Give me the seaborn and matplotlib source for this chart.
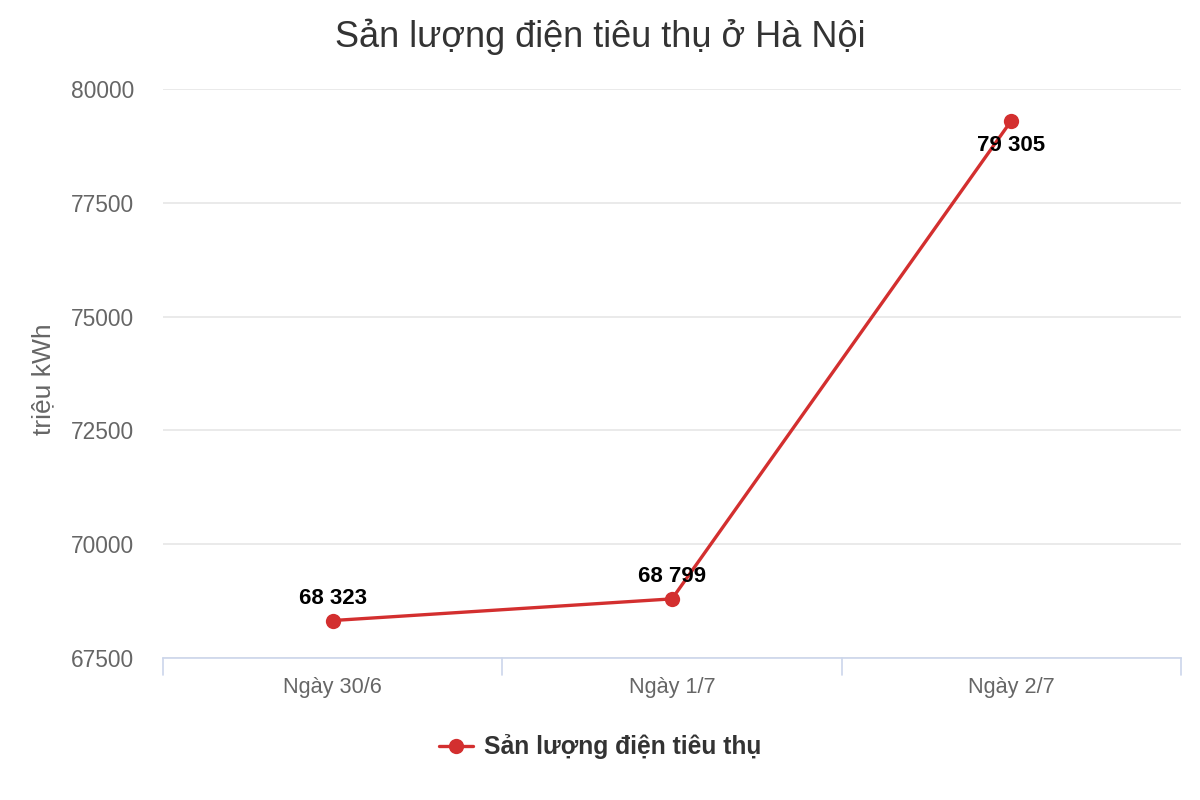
import matplotlib
matplotlib.use("Agg")
import matplotlib.pyplot as plt
import seaborn as sns
import pandas as pd
from matplotlib.lines import Line2D

categories = ["Ngày 30/6", "Ngày 1/7", "Ngày 2/7"]
values = [68323, 68799, 79305]
series_name = "Sản lượng điện tiêu thụ"
y_ticks = [67500, 70000, 72500, 75000, 77500, 80000]

sns.set_theme(style="white")
plt.rcParams['font.family'] = ['Liberation Sans', 'DejaVu Sans']

df = pd.DataFrame({"x": range(len(categories)), "y": values, "s": series_name})

fig = plt.figure(figsize=(12, 8), dpi=100)
ax = fig.add_axes([163/1200, 1-658/800, (1181-163)/1200, (658-89)/800])

red = "#d32f2f"
sns.lineplot(data=df, x="x", y="y", ax=ax, color=red, linewidth=2.4,
             marker="o", markersize=11, markeredgewidth=0, legend=False, zorder=5)

ax.set_xlim(-0.5, len(categories)-0.5)
ax.set_ylim(y_ticks[0], y_ticks[-1])
ax.set_yticks(y_ticks)
ax.set_yticklabels([str(t) for t in y_ticks])
ax.set_xticks(range(len(categories)))
ax.set_xticklabels(categories)
ax.grid(axis="y", color="#e6e6e6", linewidth=1.2)
ax.grid(axis="x", visible=False)
for s in ["top", "right", "left"]:
    ax.spines[s].set_visible(False)
ax.spines["bottom"].set_color("#ccd6eb")
ax.spines["bottom"].set_linewidth(1.2)
ax.tick_params(axis="y", length=0, labelsize=16.4, labelcolor="#666666", pad=21)
ax.tick_params(axis="x", length=0, labelsize=15.6, labelcolor="#666666", pad=14)
ax.set_xlabel("")
ax.set_ylabel("triệu kWh", fontsize=19, color="#666666")
ax.yaxis.set_label_coords(-0.106, 0.49)

# category band tick marks
for b in [-0.5, 0.5, 1.5, 2.5]:
    ax.plot([b, b], [0, -0.03], transform=ax.get_xaxis_transform(), color="#ccd6eb",
            linewidth=1.2, clip_on=False)

def fmt(v):
    return f"{v:,}".replace(",", " ")

for i, v in enumerate(values):
    if i == len(values) - 1:
        ax.annotate(fmt(v), (i, v), xytext=(0, -18), textcoords="offset points",
                    ha="center", va="center", fontsize=16, fontweight="bold", color="black", zorder=6)
    else:
        ax.annotate(fmt(v), (i, v), xytext=(0, 16), textcoords="offset points",
                    ha="center", va="center", fontsize=16, fontweight="bold", color="black", zorder=6)

fig.text(0.5, 1-37/800, "Sản lượng điện tiêu thụ ở Hà Nội", ha="center", va="center",
         fontsize=26, color="#333333")

handle = Line2D([], [], color=red, linewidth=2.4, marker="o", markersize=11, markeredgewidth=0)
leg = fig.legend([handle], [series_name], loc="center", bbox_to_anchor=(0.5, 1-747/800),
                 frameon=False, prop={"size": 17.7, "weight": "bold"}, handlelength=1.4,
                 handletextpad=0.45)
for t in leg.get_texts():
    t.set_color("#333333")

fig.savefig("out.png", dpi=100)
